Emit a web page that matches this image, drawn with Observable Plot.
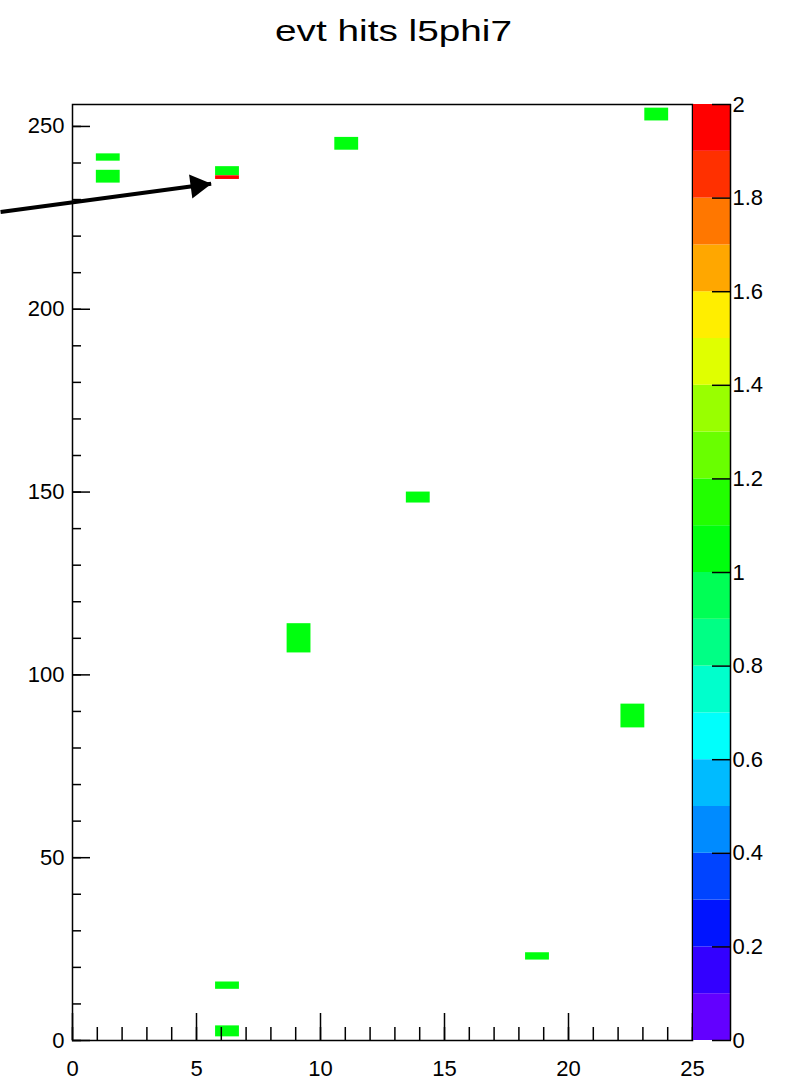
<!DOCTYPE html>
<html><head><meta charset="utf-8">
<script src="https://cdn.jsdelivr.net/npm/d3@7"></script>
<script src="https://cdn.jsdelivr.net/npm/@observablehq/plot@0.6"></script>
<style>
body{margin:0;background:#fff}
#wrap{position:relative;width:787px;height:1085px;background:#fff}
#wrap svg{position:absolute;left:0;top:0}
</style></head><body><div id="wrap"></div>
<script>
// ---- data ----
const title = "evt hits l5phi7";
const nBinsX = 26;
const xRange = [0, 25];
const yRange = [0, 256];
// histogram cells: x bin index, y extent, content
const cellXBin  = [1,     1,     6,     6,     11,    24,    14,  9,   23,   19, 6,  6];
const cellY1    = [240.5, 234.5, 236.5, 235.5, 243.5, 251.5, 147, 106, 85.5, 22, 14, 1];
const cellY2    = [242.5, 238,   239,   236.5, 247,   255,   150, 114, 92,   24, 16, 4];
const cellValue = [1,     1,     1,     2,     1,     1,     1,   1,   1,    1,  1,  1];
const xMajorTicks = [0, 5, 10, 15, 20, 25];
const xMinorTicks = [0,1,2,3,4,5,6,7,8,9,10,11,12,13,14,15,16,17,18,19,20,21,22,23,24,25];
const yMajorTicks = [0, 50, 100, 150, 200, 250];
const yMinorTicks = [0,10,20,30,40,50,60,70,80,90,100,110,120,130,140,150,160,170,180,190,200,210,220,230,240,250];
const zRange = [0, 2];
const zLevels = [0.1,0.2,0.3,0.4,0.5,0.6,0.7,0.8,0.9,1.0,1.1,1.2,1.3,1.4,1.5,1.6,1.7,1.8,1.9];
const zTicks = [0, 0.2, 0.4, 0.6, 0.8, 1, 1.2, 1.4, 1.6, 1.8, 2];
const zTickLabels = ["0","0.2","0.4","0.6","0.8","1","1.2","1.4","1.6","1.8","2"];
// annotation arrow (data coordinates)
const arrowTail = {x: -2.9, y: 226.6};
const arrowTip  = {x: 5.59, y: 234.3};

// ---- ROOT "pretty" palette (violet -> red), 50 colours sampled by 20 contours ----
const nPretty = 50, nContours = zLevels.length + 1;
const palette = d3.range(nContours).map(i => {
  const k = Math.floor((i + 0.99) * nPretty / nContours);
  const hue = 280 - (k + 1) * (280 / nPretty);
  return d3.hsl(hue, 1, 0.5).formatHex();
});

const binW = (xRange[1] - xRange[0]) / nBinsX;
const cells = cellXBin.map((b, i) => ({
  x1: xRange[0] + b * binW, x2: xRange[0] + (b + 1) * binW,
  y1: cellY1[i], y2: cellY2[i], v: cellValue[i]
}));
const bounds = [zRange[0], ...zLevels, zRange[1]];
const bands = d3.range(nContours).map(i => ({lo: bounds[i], hi: bounds[i + 1], mid: (bounds[i] + bounds[i + 1]) / 2}));

const font = "'Liberation Sans', Arial, Helvetica, sans-serif";
const W = 787, H = 1085, mT = 104, mB = 45;
const colorScale = {type: "threshold", domain: zLevels, range: palette};

const main = Plot.plot({
  width: W, height: H,
  marginLeft: 72, marginRight: 95, marginTop: mT, marginBottom: mB,
  style: {fontFamily: font, fontSize: "22px", color: "black", background: "transparent", overflow: "visible"},
  x: {domain: xRange, axis: null},
  y: {domain: yRange, axis: null},
  color: colorScale,
  marks: [
    Plot.rect(cells, {x1: "x1", x2: "x2", y1: "y1", y2: "y2", fill: "v"}),
    Plot.frame({stroke: "black", strokeWidth: 1.5}),
    Plot.axisX({ticks: xMinorTicks, tickSize: -13, tickFormat: () => "", stroke: "black", strokeWidth: 1.5}),
    Plot.axisX({ticks: xMajorTicks, tickSize: -27, tickFormat: () => "", stroke: "black", strokeWidth: 1.5}),
    Plot.axisX({ticks: xMajorTicks, tickSize: 0, tickPadding: 20, fill: "black"}),
    Plot.axisY({ticks: yMinorTicks, tickSize: -9, tickFormat: () => "", stroke: "black", strokeWidth: 1.5}),
    Plot.axisY({ticks: yMajorTicks, tickSize: -18, tickFormat: () => "", stroke: "black", strokeWidth: 1.5}),
    Plot.axisY({ticks: yMajorTicks, tickSize: 0, tickPadding: 8, fill: "black"}),
    Plot.link([{a: arrowTail, b: arrowTip}], {x1: d => d.a.x, y1: d => d.a.y, x2: d => d.b.x, y2: d => d.b.y, stroke: "black", strokeWidth: 4}),
    Plot.dot([arrowTip], {x: "x", y: "y", symbol: "triangle", r: 9, fill: "black", stroke: "none", rotate: 82.3, dx: -13.5, dy: 1.8}),
    Plot.text([title], {frameAnchor: "top", lineAnchor: "middle", dy: -73, dx: 11, fontSize: 30, fill: "black", className: "chart-title"})
  ]
});

// ROOT renders the title wide: stretch the glyphs to the reference's width
main.querySelectorAll(".chart-title text").forEach(t => {
  t.setAttribute("textLength", 237);
  t.setAttribute("lengthAdjust", "spacingAndGlyphs");
});

const bar = Plot.plot({
  width: W, height: H,
  marginLeft: 693, marginRight: 57, marginTop: mT, marginBottom: mB,
  style: {fontFamily: font, fontSize: "22px", color: "black", background: "transparent", overflow: "visible"},
  x: {domain: [0, 1], axis: null},
  y: {domain: zRange, axis: null},
  color: colorScale,
  marks: [
    Plot.rect(bands, {x1: 0, x2: 1, y1: "lo", y2: "hi", fill: "mid"}),
    Plot.ruleX([1], {y1: zRange[0], y2: zRange[1], stroke: "black", strokeWidth: 1.5}),
    Plot.axisY({anchor: "right", ticks: zTicks, tickSize: -19, tickFormat: () => "", stroke: "black", strokeWidth: 1.5}),
    Plot.axisY({anchor: "right", ticks: zTicks, tickSize: 0, tickPadding: 2, fill: "black",
      tickFormat: d => zTickLabels[zTicks.indexOf(d)]})
  ]
});

document.getElementById("wrap").append(main, bar);
</script>
</body></html>
